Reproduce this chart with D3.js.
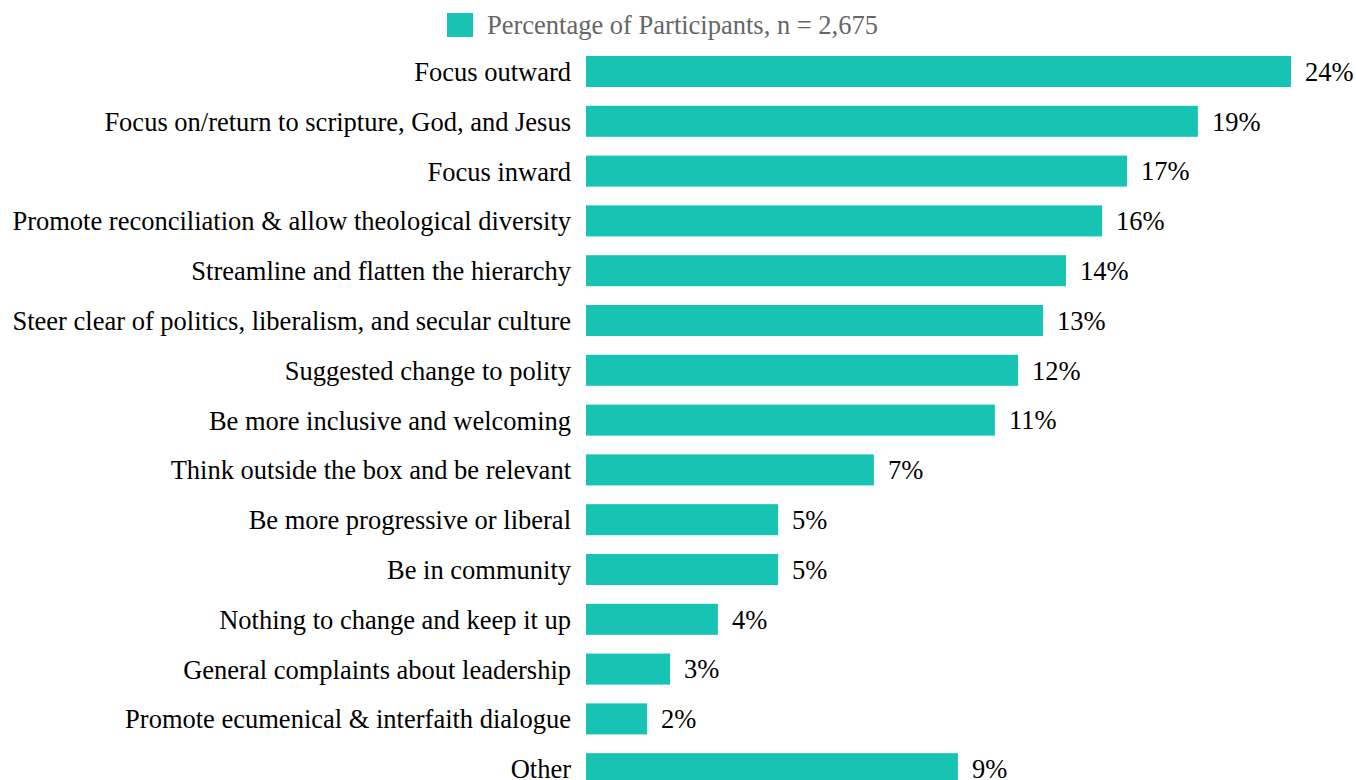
<!DOCTYPE html>
<html>
<head>
<meta charset="utf-8">
<script src="https://cdn.jsdelivr.net/npm/d3@7"></script>
<style>
  html, body { margin: 0; padding: 0; background: #ffffff; }
  svg { display: block; }
  text { font-family: "Liberation Serif", "Times New Roman", serif; }
</style>
</head>
<body>
<svg id="chart" width="1356" height="780"></svg>
<script>
// ---- Data ----
const categories = [
  "Focus outward",
  "Focus on/return to scripture, God, and Jesus",
  "Focus inward",
  "Promote reconciliation & allow theological diversity",
  "Streamline and flatten the hierarchy",
  "Steer clear of politics, liberalism, and secular culture",
  "Suggested change to polity",
  "Be more inclusive and welcoming",
  "Think outside the box and be relevant",
  "Be more progressive or liberal",
  "Be in community",
  "Nothing to change and keep it up",
  "General complaints about leadership",
  "Promote ecumenical & interfaith dialogue",
  "Other"
];
// bar lengths as drawn in the source picture (relative units, top bar = 24)
const barValues = [24.0, 20.83, 18.42, 17.57, 16.34, 15.56, 14.71, 13.92, 9.80, 6.54, 6.54, 4.49, 2.86, 2.08, 12.66];
// percentage labels as printed
const pctLabels = ["24%", "19%", "17%", "16%", "14%", "13%", "12%", "11%", "7%", "5%", "5%", "4%", "3%", "2%", "9%"];
const seriesName = "Percentage of Participants, n = 2,675";

// ---- Layout ----
const barColor = "#17c4b3";
const fontSize = 26.5;
const svg = d3.select("#chart");

const x = d3.scaleLinear().domain([0, 24]).range([586, 586 + 705]);
const y = d3.scaleBand().domain(categories).range([56, 784.2]).paddingInner(0.377).paddingOuter(0);

// bars
svg.append("g").selectAll("rect")
  .data(categories)
  .join("rect")
  .attr("x", x(0))
  .attr("y", d => y(d))
  .attr("width", (d, i) => x(barValues[i]) - x(0))
  .attr("height", y.bandwidth())
  .attr("fill", barColor);

// category labels
svg.append("g").selectAll("text")
  .data(categories)
  .join("text")
  .attr("x", 571)
  .attr("y", d => y(d) + y.bandwidth() / 2 + 9.5)
  .attr("text-anchor", "end")
  .attr("font-size", fontSize)
  .attr("fill", "#000")
  .text(d => d);

// value labels
svg.append("g").selectAll("text")
  .data(categories)
  .join("text")
  .attr("x", (d, i) => x(barValues[i]) + 14)
  .attr("y", d => y(d) + y.bandwidth() / 2 + 9.3)
  .attr("font-size", fontSize)
  .attr("fill", "#000")
  .text((d, i) => pctLabels[i]);

// legend
const lg = svg.append("g");
lg.append("rect").attr("x", 447).attr("y", 13).attr("width", 26).attr("height", 24).attr("fill", barColor);
lg.append("text").attr("x", 487).attr("y", 34).attr("font-size", fontSize).attr("fill", "#666").text(seriesName);
</script>
</body>
</html>
